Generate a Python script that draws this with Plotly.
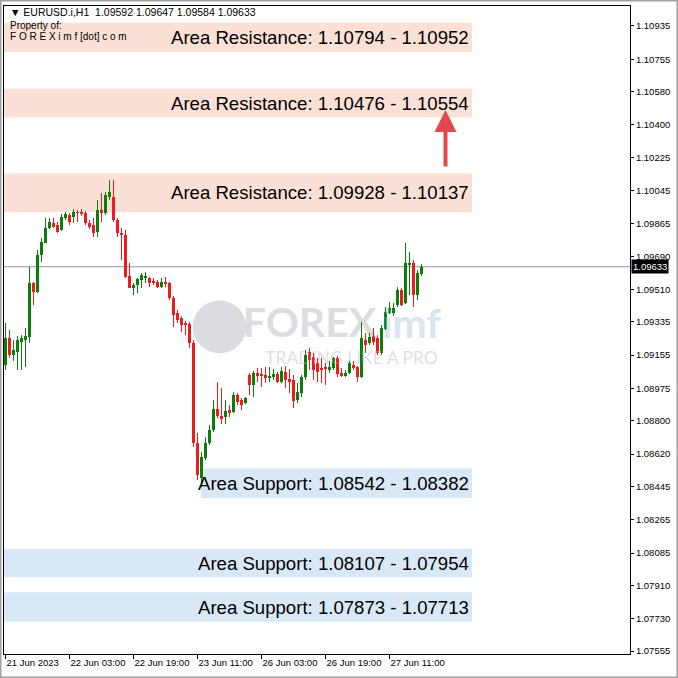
import plotly.graph_objects as go

# ---------------- data ----------------
opens = [1.09102,1.09248,1.09156,1.09172,1.09226,1.09237,1.09253,1.09545,1.09496,1.09697,
         1.09762,1.09843,1.09870,1.09859,1.09832,1.09897,1.09913,1.09902,1.09929,1.09929,
         1.09924,1.09870,1.09859,1.09821,1.09940,1.09924,1.10010,1.10010,1.09886,1.09816,
         1.09805,1.09583,1.09518,1.09534,1.09561,1.09572,1.09572,1.09556,1.09550,1.09523,
         1.09550,1.09545,1.09464,1.09383,1.09356,1.09329,1.09324,1.09221,1.08680,1.08491,
         1.08599,1.08680,1.08750,1.08863,1.08825,1.08820,1.08858,1.08847,1.08939,1.08912,
         1.08896,1.09048,1.08994,1.09059,1.09053,1.09048,1.09032,1.09037,1.09053,1.09010,
         1.09064,1.09026,1.09021,1.08912,1.08950,1.09037,1.09172,1.09145,1.09113,1.09086,
         1.09091,1.09075,1.09086,1.09140,1.09059,1.09042,1.09059,1.09102,1.09091,1.09037,
         1.09237,1.09221,1.09259,1.09248,1.09167,1.09296,1.09383,1.09383,1.09426,1.09507,
         1.09437,1.09643,1.09654,1.09480,1.09592]
highs = [1.09329,1.09291,1.09237,1.09259,1.09264,1.09302,1.09632,1.09550,1.09724,1.09789,
         1.09897,1.09897,1.09897,1.09875,1.09918,1.09929,1.09924,1.09945,1.09940,1.09945,
         1.09935,1.09886,1.09897,1.09994,1.10032,1.10037,1.10102,1.10102,1.09897,1.09843,
         1.09832,1.09654,1.09545,1.09572,1.09599,1.09604,1.09577,1.09572,1.09561,1.09572,
         1.09577,1.09550,1.09475,1.09399,1.09366,1.09340,1.09334,1.09237,1.08734,1.08631,
         1.08712,1.08777,1.08912,1.09010,1.08977,1.08912,1.08885,1.08955,1.08950,1.08923,
         1.08928,1.09059,1.09070,1.09086,1.09086,1.09091,1.09091,1.09080,1.09064,1.09091,
         1.09096,1.09080,1.09048,1.09005,1.09048,1.09183,1.09194,1.09167,1.09140,1.09140,
         1.09113,1.09124,1.09145,1.09151,1.09086,1.09075,1.09124,1.09124,1.09096,1.09334,
         1.09275,1.09275,1.09302,1.09264,1.09318,1.09415,1.09442,1.09437,1.09523,1.09518,
         1.09762,1.09713,1.09670,1.09615,1.09647]
lows = [1.09075,1.09140,1.09124,1.09075,1.09075,1.09091,1.09221,1.09426,1.09491,1.09659,
        1.09762,1.09837,1.09843,1.09816,1.09827,1.09886,1.09859,1.09870,1.09875,1.09908,
        1.09859,1.09837,1.09794,1.09794,1.09875,1.09913,1.09994,1.09875,1.09794,1.09670,
        1.09572,1.09518,1.09480,1.09491,1.09518,1.09545,1.09523,1.09534,1.09518,1.09518,
        1.09523,1.09453,1.09307,1.09329,1.09280,1.09264,1.09194,1.08658,1.08480,1.08442,
        1.08588,1.08669,1.08739,1.08815,1.08782,1.08782,1.08820,1.08842,1.08885,1.08858,
        1.08890,1.08939,1.08928,1.09010,1.08983,1.09005,1.09010,1.09021,1.09005,1.09005,
        1.08977,1.08950,1.08869,1.08896,1.08928,1.09021,1.09075,1.09021,1.09010,1.09005,
        1.08994,1.09059,1.09075,1.09037,1.09037,1.09037,1.09053,1.09075,1.09010,1.09032,
        1.09167,1.09210,1.09210,1.09156,1.09156,1.09291,1.09377,1.09366,1.09415,1.09420,
        1.09431,1.09480,1.09415,1.09453,1.09584]
closes = [1.09248,1.09156,1.09183,1.09237,1.09248,1.09259,1.09545,1.09496,1.09697,1.09767,
          1.09843,1.09875,1.09848,1.09821,1.09902,1.09918,1.09875,1.09929,1.09924,1.09918,
          1.09870,1.09848,1.09816,1.09940,1.09924,1.10021,1.10037,1.09886,1.09816,1.09805,
          1.09577,1.09518,1.09534,1.09566,1.09588,1.09583,1.09545,1.09545,1.09523,1.09550,
          1.09540,1.09464,1.09372,1.09345,1.09318,1.09318,1.09221,1.08680,1.08507,1.08604,
          1.08680,1.08750,1.08863,1.08825,1.08809,1.08852,1.08842,1.08939,1.08901,1.08885,
          1.08923,1.08994,1.09059,1.09042,1.09042,1.09032,1.09042,1.09053,1.09010,1.09070,
          1.09021,1.09010,1.08907,1.08955,1.09037,1.09156,1.09129,1.09075,1.09064,1.09075,
          1.09080,1.09091,1.09140,1.09053,1.09042,1.09059,1.09113,1.09086,1.09037,1.09248,
          1.09210,1.09253,1.09226,1.09167,1.09302,1.09388,1.09410,1.09410,1.09507,1.09426,
          1.09654,1.09654,1.09480,1.09599,1.09633]

tick_idx = [0, 16, 32, 48, 64, 80, 96]
tick_labels = ["21 Jun 2023", "22 Jun 03:00", "22 Jun 19:00", "23 Jun 11:00",
               "26 Jun 03:00", "26 Jun 19:00", "27 Jun 11:00"]
price_ticks = [1.10935, 1.10755, 1.10580, 1.10400, 1.10225, 1.10045, 1.09865, 1.09690,
               1.09510, 1.09335, 1.09155, 1.08975, 1.08800, 1.08620, 1.08445, 1.08265,
               1.08085, 1.07910, 1.07730, 1.07555]

zone_low = [1.10794, 1.10440, 1.09928, 1.08382, 1.07954, 1.07713]
zone_high = [1.10952, 1.10596, 1.10137, 1.08542, 1.08107, 1.07873]
zone_text = ["Area Resistance: 1.10794 - 1.10952",
             "Area Resistance: 1.10476 - 1.10554",
             "Area Resistance: 1.09928 - 1.10137",
             "Area Support: 1.08542 - 1.08382",
             "Area Support: 1.08107 - 1.07954",
             "Area Support: 1.07873 - 1.07713"]
zone_kind = ["res", "res", "res", "sup", "sup", "sup"]
zone_start = [0, 0, 0, 0.3147, 0, 0]  # paper-x start of each band

last_price = 1.09633
arrow_tip_price = 1.10481
arrow_x_idx = 110
header = "▼ EURUSD.i,H1  1.09592 1.09647 1.09584 1.09633"

# ---------------- styling ----------------
GREEN = "#0b7d0b"
RED = "#ec1c1c"
PEACH = "#fbe1d5"
LBLUE = "#d9e8f7"

n = len(opens)
xs = list(range(n))
colors = [GREEN if c >= o else RED for o, c in zip(opens, closes)]
bases = [min(o, c) for o, c in zip(opens, closes)]
heights = [max(abs(c - o), 0.00002) for o, c in zip(opens, closes)]

fig = go.Figure()

# watermark (behind candles)
fig.add_trace(go.Scatter(
    x=[76, 101.5], y=[1.09310, 1.09305], mode="text",
    text=["<b>FOREX</b>", "<b>imf</b>"],
    textfont=dict(family="Lato, Liberation Sans", size=41,
                  color=["rgba(190,190,200,0.55)", "rgba(185,205,225,0.55)"]),
    hoverinfo="skip", showlegend=False))
fig.add_trace(go.Scatter(
    x=[86.5], y=[1.09130], mode="text", text=["TRADING LIKE A PRO"],
    textfont=dict(family="Lato, Liberation Sans", size=17.5, color="rgba(200,200,208,0.6)"),
    hoverinfo="skip", showlegend=False))

# wicks
for col in (GREEN, RED):
    wx, wy = [], []
    for i in range(n):
        if colors[i] == col:
            wx += [xs[i], xs[i], None]
            wy += [lows[i], highs[i], None]
    fig.add_trace(go.Scatter(x=wx, y=wy, mode="lines", line=dict(color=col, width=1),
                             hoverinfo="skip", showlegend=False))

# bodies
fig.add_trace(go.Bar(x=xs, y=heights, base=bases, marker=dict(color=colors, line=dict(width=0)),
                     width=0.75, showlegend=False, hoverinfo="skip"))

shapes = []
annotations = []

def px_x(p):
    return (p - 4) / 626.0

def px_y(q):
    return (654 - q) / 648.0

for lo, hi, txt, kind, x0 in zip(zone_low, zone_high, zone_text, zone_kind, zone_start):
    shapes.append(dict(type="rect", xref="paper", yref="y", x0=x0, x1=px_x(472),
                       y0=lo, y1=hi, fillcolor=PEACH if kind == "res" else LBLUE,
                       line=dict(width=0), layer="below"))
    annotations.append(dict(xref="paper", yref="y", x=px_x(471), y=(lo + hi) / 2,
                            text=txt, showarrow=False, xanchor="right", yanchor="middle",
                            font=dict(family="Liberation Sans, Arial", size=18.6, color="#000000")))

# watermark circle
shapes.append(dict(type="circle", xref="x", yref="y", x0=46.8, x1=60.2, y0=1.09165, y1=1.09450,
                   fillcolor="rgba(195,195,205,0.6)", line=dict(width=0), layer="below"))

# current price line
shapes.append(dict(type="line", xref="paper", yref="y", x0=0, x1=1, y0=last_price, y1=last_price,
                   line=dict(color="#8a98a6", width=1), layer="below"))

# outer window frame
shapes.append(dict(type="rect", xref="paper", yref="paper", x0=px_x(0.5), x1=px_x(677.5),
                   y0=px_y(677.5), y1=px_y(0.5), line=dict(color="#a0a0a0", width=2),
                   fillcolor="rgba(0,0,0,0)", layer="above"))

# price label
annotations.append(dict(xref="paper", yref="y", x=px_x(631), y=last_price, text="1.09633",
                        showarrow=False, xanchor="left", yanchor="middle", bgcolor="#000000",
                        borderpad=1, font=dict(family="Liberation Sans, Arial", size=9.5,
                                               color="#ffffff")))

# red arrow
annotations.append(dict(xref="x", yref="y", x=arrow_x_idx, y=arrow_tip_price, ax=0, ay=58,
                        axref="pixel", ayref="pixel", showarrow=True, arrowhead=2,
                        arrowsize=1.1, arrowwidth=4, arrowcolor="#e04a4e", text=""))

# header texts
annotations.append(dict(xref="paper", yref="paper", x=px_x(8), y=px_y(12), text=header,
                        showarrow=False, xanchor="left", yanchor="middle",
                        font=dict(family="Liberation Sans, Arial", size=10.5, color="#000000")))
annotations.append(dict(xref="paper", yref="paper", x=px_x(8), y=px_y(25), text="Property of:",
                        showarrow=False, xanchor="left", yanchor="middle",
                        font=dict(family="Liberation Sans, Arial", size=10, color="#000000")))
annotations.append(dict(xref="paper", yref="paper", x=px_x(8), y=px_y(37),
                        text="F O R E X i m f [dot] c o m",
                        showarrow=False, xanchor="left", yanchor="middle",
                        font=dict(family="Liberation Sans, Arial", size=10, color="#000000")))

fig.update_layout(
    width=678, height=678,
    margin=dict(l=4, r=48, t=6, b=24, pad=0),
    paper_bgcolor="#ffffff", plot_bgcolor="#ffffff",
    showlegend=False, bargap=0,
    shapes=shapes, annotations=annotations,
    xaxis=dict(range=[-0.375, 156.125], tickmode="array", tickvals=tick_idx, ticktext=tick_labels,
               showgrid=False, zeroline=False, showline=True, linecolor="#000000", linewidth=1,
               mirror=True, ticks="outside", ticklen=4, tickcolor="#000000",
               ticklabelposition="outside right",
               tickfont=dict(family="Liberation Sans, Arial", size=9.5, color="#000000"),
               fixedrange=True),
    yaxis=dict(range=[1.07539, 1.11043], side="right", tickmode="array", tickvals=price_ticks,
               ticktext=["%.5f" % v for v in price_ticks],
               showgrid=False, zeroline=False, showline=True, linecolor="#000000", linewidth=1,
               mirror=True, ticks="outside", ticklen=3, tickcolor="#000000",
               tickfont=dict(family="Liberation Sans, Arial", size=9.5, color="#000000"),
               fixedrange=True),
)

fig.write_html("out.html", config={"displayModeBar": False},
               post_script="document.body.style.margin='0px';document.body.style.padding='0px';")
